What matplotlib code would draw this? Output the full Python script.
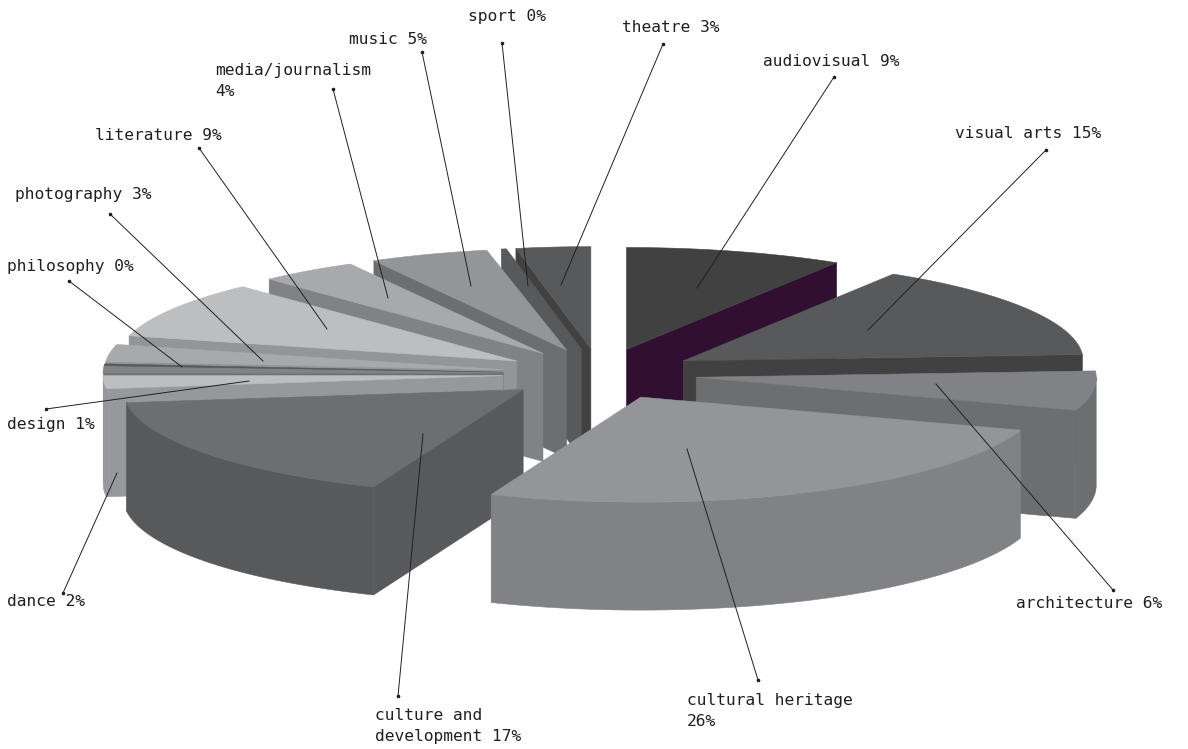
import numpy as np
import matplotlib
matplotlib.use("Agg")
import matplotlib.pyplot as plt
from matplotlib.patches import Polygon

# slices run clockwise from 12 o'clock
CATEGORIES = ["audiovisual", "visual arts", "architecture", "cultural heritage\n",
              "culture and\ndevelopment", "dance", "design", "philosophy",
              "photography", "literature", "media/journalism\n", "music", "sport", "theatre"]
VALUES = [8.8, 15.2, 6.1, 26, 16.9, 2, 1, 0.3, 2.7, 9, 4, 4.8, 0.2, 3]

TOP_COLORS = ["#414141", "#58595b", "#808285", "#939598", "#6d6e70", "#bcbec0", "#808285",
              "#58595b", "#a7a9ac", "#bcbec0", "#a7a9ac", "#939598", "#58595b", "#58595b"]
SIDE_COLORS = ["#300f30", "#414141", "#6d6e70", "#808285", "#58595b", "#97989b", "#6d6e70",
               "#808285", "#939598", "#939598", "#808285", "#6d6e70", "#58595b", "#414141"]

# pie geometry in pixels
CX, CY = 600, 374
RADIUS = 400
SQUASH_FRONT = 0.2625
SQUASH_BACK = 0.255
DEPTH = 108
EXPLODE = 97

# label position (left, vertical centre), leader dot, leader end
LABEL_XY = [(763, 61), (955, 134), (1016, 603), (687, 711), (375, 726), (7, 601), (7, 424),
            (7, 267), (15, 195), (95, 135), (215, 81), (349, 40), (468, 16), (622, 27)]
LEADER_DOT = [(834, 77), (1046, 150), (1113, 590), (758, 680), (398, 696), (63, 593), (46, 409),
              (69, 281), (110, 214), (199, 148), (333, 89), (422, 52), (502, 43), (663, 44)]
LEADER_END = [(697, 288), (868, 330), (936, 384), (687, 449), (423, 434), (117, 473), (249, 381),
              (182, 367), (263, 361), (327, 329), (388, 298), (471, 286), (528, 286), (561, 285)]


def rim(apex, angles):
    # angles in degrees clockwise from the top
    rad = np.radians(angles)
    squash = np.where(np.cos(rad) > 0, SQUASH_BACK, SQUASH_FRONT)
    return np.column_stack([apex[0] + RADIUS * np.sin(rad),
                            apex[1] - RADIUS * squash * np.cos(rad)])


def draw_slice(ax, a0, a1, top, side):
    mid = np.radians((a0 + a1) / 2)
    apex = np.array([CX + EXPLODE * np.sin(mid), CY - EXPLODE * SQUASH_FRONT * np.cos(mid)])
    down = np.array([0, DEPTH])
    style = dict(linewidth=0.4, joinstyle="round")

    # cut faces, only the ones turned towards the viewer
    for angle, visible in ((a0, np.sin(np.radians(a0)) < -1e-6), (a1, np.sin(np.radians(a1)) > 1e-6)):
        if visible:
            corner = rim(apex, np.array([angle]))[0]
            ax.add_patch(Polygon([apex, corner, corner + down, apex + down],
                                 facecolor=side, edgecolor=side, **style))

    # outer wall, front half only
    lo, hi = max(a0, 90), min(a1, 270)
    if hi > lo:
        edge = rim(apex, np.linspace(lo, hi, 80))
        ax.add_patch(Polygon(np.vstack([edge, edge[::-1] + down]),
                             facecolor=side, edgecolor=side, **style))

    points = np.vstack([apex, rim(apex, np.linspace(a0, a1, 120))])
    ax.add_patch(Polygon(points, facecolor=top, edgecolor=top, **style))


def main():
    fig = plt.figure(figsize=(11.88, 7.49), dpi=100)
    ax = fig.add_axes([0, 0, 1, 1])
    ax.set_xlim(0, 1188)
    ax.set_ylim(749, 0)
    ax.axis("off")

    edges = np.concatenate([[0], np.cumsum(VALUES)]) * 3.6
    mids = (edges[:-1] + edges[1:]) / 2
    # back slices first, the front ones paint over them
    for i in np.argsort(-np.cos(np.radians(mids))):
        draw_slice(ax, edges[i], edges[i + 1], TOP_COLORS[i], SIDE_COLORS[i])

    for i, name in enumerate(CATEGORIES):
        ax.plot(*zip(LEADER_DOT[i], LEADER_END[i]), color="#231f20", linewidth=0.7)
        ax.plot(*LEADER_DOT[i], "o", color="#231f20", markersize=1.6)
        sep = "" if name.endswith("\n") else " "
        ax.text(*LABEL_XY[i], f"{name}{sep}{round(VALUES[i])}%", family="DejaVu Sans Mono",
                fontsize=11.7, color="#231f20", ha="left", va="center", linespacing=1.55)

    fig.savefig("out.png", dpi=100)


if __name__ == "__main__":
    main()
